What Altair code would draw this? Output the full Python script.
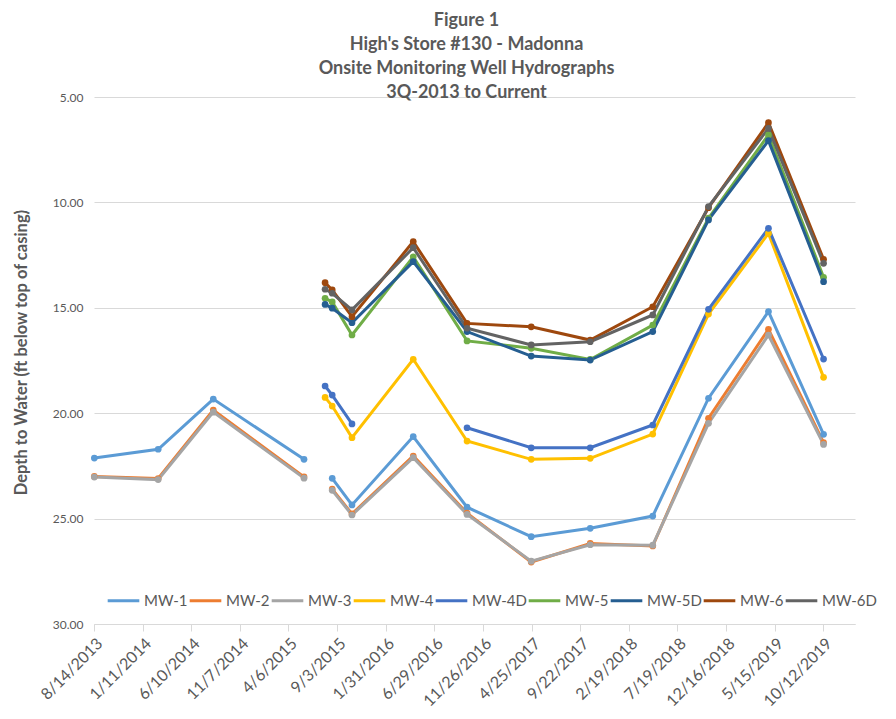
import altair as alt
import pandas as pd

# ---- data ----
dates = ["2013-08-15", "2014-02-28", "2014-08-17", "2015-05-24", "2015-07-28",
         "2015-08-19", "2015-10-19", "2016-04-25", "2016-10-08", "2017-04-24",
         "2017-10-23", "2018-05-04", "2018-10-23", "2019-04-26", "2019-10-13"]

wells = ["MW-1", "MW-2", "MW-3", "MW-4", "MW-4D", "MW-5", "MW-5D", "MW-6", "MW-6D"]

mw1 = [22.13, 21.71, 19.33, 22.19, None, 23.09, 24.35, 21.11, 24.46, 25.86, 25.46, 24.88, 19.29, 15.18, 21.00]
mw2 = [23.00, 23.10, 19.85, 23.02, None, 23.60, 24.78, 22.03, 24.74, 27.06, 26.18, 26.30, 20.24, 16.02, 21.40]
mw3 = [23.03, 23.15, 19.95, 23.08, None, 23.66, 24.83, 22.11, 24.80, 27.02, 26.24, 26.26, 20.48, 16.29, 21.48]
mw4 = [None, None, None, None, 19.25, 19.66, 21.16, 17.44, 21.32, 22.19, 22.14, 20.99, 15.30, 11.47, 18.30]
mw4d = [None, None, None, None, 18.71, 19.14, 20.51, None, 20.69, 21.64, 21.64, 20.56, 15.07, 11.23, 17.43]
mw5 = [None, None, None, None, 14.55, 14.72, 16.29, 12.58, 16.57, 16.92, 17.45, 15.82, 10.75, 6.80, 13.55]
mw5d = [None, None, None, None, 14.84, 15.02, 15.71, 12.81, 16.13, 17.29, 17.48, 16.13, 10.83, 7.07, 13.76]
mw6 = [None, None, None, None, 13.81, 14.15, 15.42, 11.86, 15.74, 15.90, 16.53, 14.95, 10.25, 6.22, 12.70]
mw6d = [None, None, None, None, 14.12, 14.31, 15.10, 12.15, 15.97, 16.76, 16.61, 15.34, 10.20, 6.49, 12.89]

colors = ["#5B9BD5", "#ED7D31", "#A5A5A5", "#FFC000", "#4472C4",
          "#70AD47", "#255E91", "#9E480E", "#636363"]

x_tick_labels = ["8/14/2013", "1/11/2014", "6/10/2014", "11/7/2014", "4/6/2015",
                 "9/3/2015", "1/31/2016", "6/29/2016", "11/26/2016", "4/25/2017",
                 "9/22/2017", "2/19/2018", "7/19/2018", "12/16/2018", "5/15/2019",
                 "10/12/2019"]
x_domain_end = "1/18/2020"

y_ticks = [5, 10, 15, 20, 25, 30]

title_lines = ["Figure 1", "High's Store #130 - Madonna",
               "Onsite Monitoring Well Hydrographs", "3Q-2013 to Current"]

# ---- build long table, with segment ids so gaps break the lines ----
rows = []
for name, vals in zip(wells, [mw1, mw2, mw3, mw4, mw4d, mw5, mw5d, mw6, mw6d]):
    seg = 0
    for d, v in zip(dates, vals):
        if v is None:
            seg += 1
            continue
        rows.append({"date": d, "depth": v, "well": name, "seg": f"{name}_{seg}"})
df = pd.DataFrame(rows)


def to_dt(s):
    m, d, y = (int(p) for p in s.split("/"))
    return alt.DateTime(year=y, month=m, date=d, utc=True)


tick_vals = [to_dt(s) for s in x_tick_labels]

FONT = "Lato"
GRAY = "#595959"

x_enc = alt.X(
    "date:T",
    scale=alt.Scale(type="utc", domain=[tick_vals[0], to_dt(x_domain_end)], nice=False),
    axis=alt.Axis(
        values=tick_vals, format="%-m/%-d/%Y", labelAngle=-45, labelFontSize=16,
        labelColor=GRAY, labelFont=FONT, grid=False, domainColor="#D9D9D9",
        tickColor="#D9D9D9", tickSize=7, labelPadding=4, title=None,
        labelOverlap=False, labelBound=False, labelFlush=False,
    ),
)
y_enc = alt.Y(
    "depth:Q",
    scale=alt.Scale(domain=[5, 30], reverse=True, nice=False, zero=False),
    axis=alt.Axis(
        values=y_ticks, format=".2f", title="Depth to Water (ft below top of casing)",
        titleFont=FONT, titleFontSize=16.5, titleFontWeight="bold", titleColor=GRAY,
        titlePadding=23, titleY=255, labelFont=FONT, labelFontSize=12, labelColor=GRAY,
        labelPadding=11, domain=False, ticks=False, grid=True, gridColor="#D9D9D9",
        gridWidth=1,
    ),
)
color_enc = alt.Color(
    "well:N",
    scale=alt.Scale(domain=wells, range=colors),
    sort=wells,
    legend=alt.Legend(
        title=None, orient="none", direction="horizontal", legendX=12, legendY=486,
        symbolType="stroke", symbolSize=1000, symbolStrokeWidth=3, labelFont=FONT,
        labelFontSize=15, labelColor=GRAY, labelOffset=3, columnPadding=-5,
        gridAlign="each",
    ),
)

lines = alt.Chart(df).mark_line(strokeWidth=3).encode(
    x=x_enc, y=y_enc, color=color_enc, detail="seg:N"
)
points = alt.Chart(df).mark_circle(size=45, opacity=1).encode(
    x=x_enc, y=y_enc,
    color=alt.Color("well:N", scale=alt.Scale(domain=wells, range=colors), legend=None),
)

chart = alt.layer(lines, points).properties(
    width=761,
    height=527,
    autosize=alt.AutoSizeParams(type="none"),
    padding={"left": 86, "top": 89, "right": 33, "bottom": 86},
    title=alt.TitleParams(
        text=title_lines, font=FONT, fontSize=18, fontWeight="bold", color=GRAY,
        anchor="middle", lineHeight=24, offset=-11, dx=-8,
    ),
).configure_view(stroke=None)

chart.save("out.html", embed_options={"renderer": "svg", "actions": False})
